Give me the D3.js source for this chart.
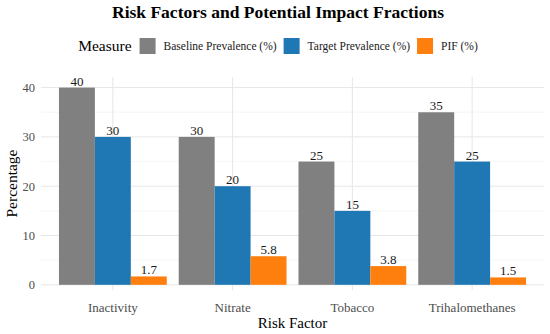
<!DOCTYPE html>
<html>
<head>
<meta charset="utf-8">
<script src="https://cdn.jsdelivr.net/npm/d3@7"></script>
<style>
  body { margin: 0; background: #fff; }
  text { font-family: "Liberation Serif", "DejaVu Serif", serif; }
</style>
</head>
<body>
<svg id="chart"></svg>
<script>
"use strict";

const width = 550, height = 334;

const categories = ["Inactivity", "Nitrate", "Tobacco", "Trihalomethanes"];
const measures = ["Baseline Prevalence (%)", "Target Prevalence (%)", "PIF (%)"];
const baseline = [40, 30, 25, 35];
const target = [30, 20, 15, 25];
const pif = [1.7, 5.8, 3.8, 1.5];
const yTicks = [0, 10, 20, 30, 40];
const yMinor = [5, 15, 25, 35];
const colors = ["#808080", "#1f77b4", "#ff7f0e"];

const margin = { top: 77, right: 6, bottom: 44, left: 41 };

const chart = d3.select('#chart')
  .attr('width', width)
  .attr('height', height);

const rows = [];
categories.forEach((c, i) => {
  rows.push({ cat: c, m: measures[0], v: baseline[i] });
  rows.push({ cat: c, m: measures[1], v: target[i] });
  rows.push({ cat: c, m: measures[2], v: pif[i] });
});

// ggplot-like placement: centres one step apart, group width 0.9 of step
const step = (width - margin.right - margin.left) / (categories.length + 0.2);
const centre = c => margin.left + step * (0.6 + categories.indexOf(c));
const groupW = step * 0.9;
const xm = d3.scaleBand().domain(measures).range([0, groupW]);
const color = d3.scaleOrdinal().domain(measures).range(colors);

const y = d3.scaleLinear()
  .domain([-1.05, 42.15])
  .range([height - margin.bottom, margin.top]);

const grid = chart.append('g');
grid.selectAll('.minor').data(yMinor).enter().append('line')
  .attr('x1', margin.left).attr('x2', width - margin.right)
  .attr('y1', d => y(d)).attr('y2', d => y(d))
  .attr('stroke', '#f0f0f0').attr('stroke-width', 0.6);
grid.selectAll('.major').data(yTicks).enter().append('line')
  .attr('x1', margin.left).attr('x2', width - margin.right)
  .attr('y1', d => y(d)).attr('y2', d => y(d))
  .attr('stroke', '#e6e6e6').attr('stroke-width', 1);
grid.selectAll('.vert').data(categories).enter().append('line')
  .attr('x1', d => centre(d)).attr('x2', d => centre(d))
  .attr('y1', margin.top).attr('y2', height - margin.bottom)
  .attr('stroke', '#e6e6e6').attr('stroke-width', 1);

chart.append('g').selectAll('rect').data(rows).enter().append('rect')
  .attr('x', d => centre(d.cat) - groupW / 2 + xm(d.m))
  .attr('width', xm.bandwidth())
  .attr('y', d => y(d.v))
  .attr('height', d => y(0) - y(d.v))
  .attr('fill', d => color(d.m));

chart.append('g').selectAll('text').data(rows).enter().append('text')
  .attr('x', d => centre(d.cat) - groupW / 2 + xm(d.m) + xm.bandwidth() / 2)
  .attr('y', d => y(d.v) - 2)
  .attr('text-anchor', 'middle')
  .attr('font-size', 13)
  .attr('fill', '#1a1a1a')
  .text(d => d.v);

// y axis labels
chart.append('g').selectAll('text').data(yTicks).enter().append('text')
  .attr('x', 35)
  .attr('y', d => y(d))
  .attr('dy', '0.35em')
  .attr('text-anchor', 'end')
  .attr('font-size', 12.5)
  .attr('fill', '#4d4d4d')
  .text(d => d);

// x axis labels
chart.append('g').selectAll('text').data(categories).enter().append('text')
  .attr('x', d => centre(d))
  .attr('y', 307)
  .attr('dy', '0.35em')
  .attr('text-anchor', 'middle')
  .attr('font-size', 13)
  .attr('fill', '#4d4d4d')
  .text(d => d);

chart.append('text')
  .attr('x', (margin.left + width - margin.right) / 2)
  .attr('y', 323)
  .attr('dy', '0.35em')
  .attr('text-anchor', 'middle')
  .attr('font-size', 15)
  .attr('fill', '#000')
  .text('Risk Factor');

chart.append('text')
  .attr('transform', `translate(12,${(margin.top + height - margin.bottom) / 2}) rotate(-90)`)
  .attr('dy', '0.35em')
  .attr('text-anchor', 'middle')
  .attr('font-size', 15.5)
  .attr('fill', '#000')
  .text('Percentage');

chart.append('text')
  .attr('x', 278)
  .attr('y', 12)
  .attr('dy', '0.35em')
  .attr('text-anchor', 'middle')
  .attr('font-size', 17.5)
  .attr('font-weight', 'bold')
  .attr('fill', '#000')
  .text('Risk Factors and Potential Impact Fractions');

// legend
const legend = chart.append('g');
const legendY = 46;
const title = legend.append('text')
  .attr('y', legendY).attr('dy', '0.35em')
  .attr('font-size', 15.5)
  .text('Measure');
let lx = title.node().getComputedTextLength() + 8;
measures.forEach(m => {
  legend.append('rect')
    .attr('x', lx).attr('y', legendY - 8)
    .attr('width', 16).attr('height', 16)
    .attr('fill', color(m));
  const t = legend.append('text')
    .attr('x', lx + 24).attr('y', legendY).attr('dy', '0.35em')
    .attr('font-size', 11.5)
    .attr('fill', '#1a1a1a')
    .text(m);
  lx += 24 + t.node().getComputedTextLength() + 7;
});
legend.attr('transform', `translate(${278 - (lx - 7) / 2},0)`);
</script>
</body>
</html>
